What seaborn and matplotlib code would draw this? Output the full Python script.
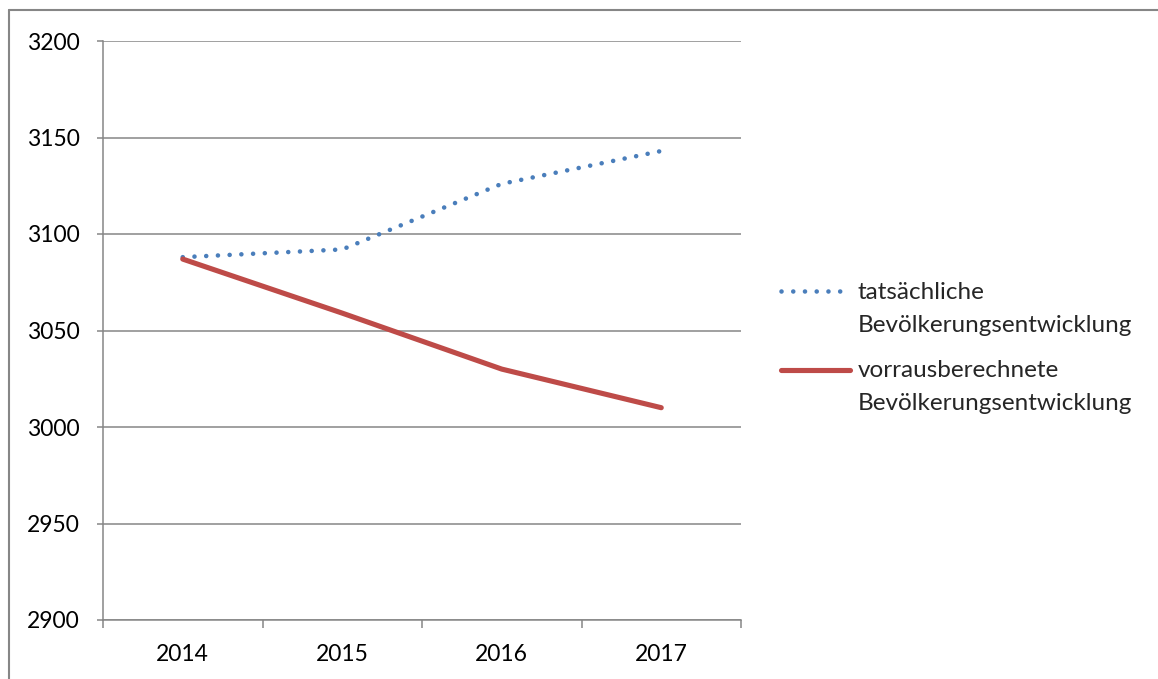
import matplotlib.pyplot as plt
import pandas as pd
import seaborn as sns
from matplotlib.lines import Line2D
from matplotlib.ticker import FixedLocator

# data
years = ["2014", "2015", "2016", "2017"]
actual = [3088, 3092, 3126, 3143]
projected = [3087, 3059, 3030, 3010]
series_names = [
    "tatsächliche\nBevölkerungsentwicklung",
    "vorrausberechnete\nBevölkerungsentwicklung",
]
y_ticks = [2900, 2950, 3000, 3050, 3100, 3150, 3200]

BLUE = "#4A7EBB"
RED = "#BE4B48"
GRAY = "#868686"

sns.set_theme(style="white")
plt.rcParams["font.family"] = ["Lato", "DejaVu Sans"]

df = pd.DataFrame(
    {
        "year": years * 2,
        "value": actual + projected,
        "series": [series_names[0]] * 4 + [series_names[1]] * 4,
    }
)

fig = plt.figure(figsize=(11.58, 6.79), dpi=100)
ax = fig.add_axes([103 / 1158, 1 - 620 / 679, (741 - 103) / 1158, (620 - 41) / 679])

sns.lineplot(
    data=df[df["series"] == series_names[0]], x="year", y="value",
    color=BLUE, lw=3.3, ax=ax, label=series_names[0],
    linestyle=(0, (0.01, 2.55)), dash_capstyle="round", sort=False,
)
sns.lineplot(
    data=df[df["series"] == series_names[1]], x="year", y="value",
    color=RED, lw=3.7, ax=ax, label=series_names[1],
    solid_capstyle="round", sort=False,
)

ax.set_xlim(-0.5, 3.5)
ax.set_ylim(2900, 3200)
ax.set_yticks(y_ticks)
ax.set_xticks(range(len(years)))
ax.set_xticklabels(years)
ax.xaxis.set_minor_locator(FixedLocator([-0.5, 0.5, 1.5, 2.5, 3.5]))
ax.set_xlabel("")
ax.set_ylabel("")

ax.grid(axis="y", color=GRAY, lw=1.1)
ax.grid(axis="x", visible=False)
ax.set_axisbelow(True)
for side in ["top", "right"]:
    ax.spines[side].set_visible(False)
for side in ["left", "bottom"]:
    ax.spines[side].set_color(GRAY)
    ax.spines[side].set_linewidth(1.1)

ax.tick_params(axis="y", which="major", direction="out", length=4.5, width=1.1,
               color=GRAY, pad=12, labelsize=16.5, labelcolor="black", left=True)
ax.tick_params(axis="x", which="major", length=0, pad=17, labelsize=16.5, labelcolor="black")
ax.tick_params(axis="x", which="minor", direction="out", length=6, width=1.1,
               color=GRAY, bottom=True)

leg = ax.legend(
    loc="center left", bbox_to_anchor=(781 / 1158, 1 - 348 / 679),
    bbox_transform=fig.transFigure, frameon=False, fontsize=17.5,
    handlelength=2.85, handletextpad=0.3, borderpad=0, borderaxespad=0,
    labelspacing=1.0,
)
for t in leg.get_texts():
    t.set_linespacing(1.72)
# Excel puts the legend key next to the first text line
for h in leg.legend_handles:
    h.set_ydata([y + 12.5 for y in h.get_ydata()])

# outer chart-area border (top and left edges visible)
fig.add_artist(Line2D([9 / 1158, 1.0], [1 - 10 / 679, 1 - 10 / 679],
                      transform=fig.transFigure, color=GRAY, lw=1.5))
fig.add_artist(Line2D([9 / 1158, 9 / 1158], [0.0, 1 - 10 / 679],
                      transform=fig.transFigure, color=GRAY, lw=1.5))

fig.savefig("out.png", dpi=100)
